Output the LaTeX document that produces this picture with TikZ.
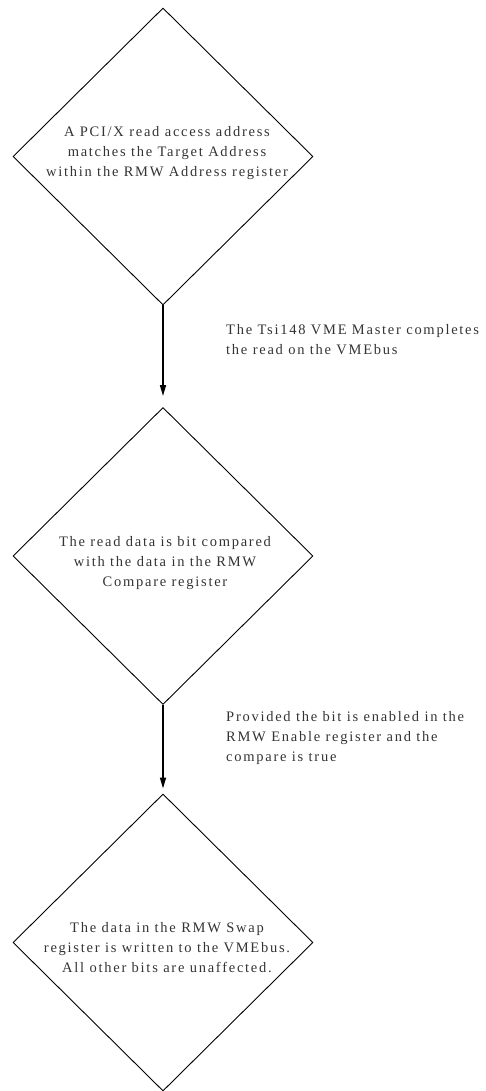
\documentclass[tikz,border=0pt]{standalone}
\usepackage{fontspec}
\setmainfont{Liberation Serif}[LetterSpace=12]
\usetikzlibrary{shapes.geometric,arrows.meta}
\tikzset{
  dia/.style={draw=black, line width=0.9bp, shape=diamond, inner sep=0pt, minimum width=300bp, minimum height=297bp},
  txt/.style={align=center, inner sep=0pt, text=black!80, font=\fontsize{14.5bp}{20bp}\selectfont},
  lbl/.style={align=left, anchor=north west, inner sep=0pt, text=black!80, font=\fontsize{14.5bp}{20bp}\selectfont},
  flow/.style={line width=1.5bp, -{Triangle[length=11bp,width=6bp]}}
}
\begin{document}
\begin{tikzpicture}[x=1bp,y=-1bp]
\useasboundingbox (0,0) rectangle (486,1091);
\node[dia] (d1) at (163,156.5) {};
\node[dia] (d2) at (163,556) {};
\node[dia] (d3) at (163,942.5) {};
\node[txt] (t1) at (167,153) {A PCI/X read access address\\matches the Target Address\\within the RMW Address register};
\node[txt] (t2) at (165,563) {The read data is bit compared\\with the data in the RMW\\Compare register};
\node[txt] (t3) at (167,948) {The data in the RMW Swap\\register is written to the VMEbus.\\All other bits are unaffected.};
\draw[flow, shorten >=11bp] (d1.south) -- (d2.north);
\draw[flow, shorten >=5bp] (d2.south) -- (d3.north);
\node[lbl] (l1) at (226,324) {The Tsi148 VME Master completes\\the read on the VMEbus};
\node[lbl] (l2) at (226,711) {Provided the bit is enabled in the\\RMW Enable register and the\\compare is true};
\end{tikzpicture}
\end{document}
